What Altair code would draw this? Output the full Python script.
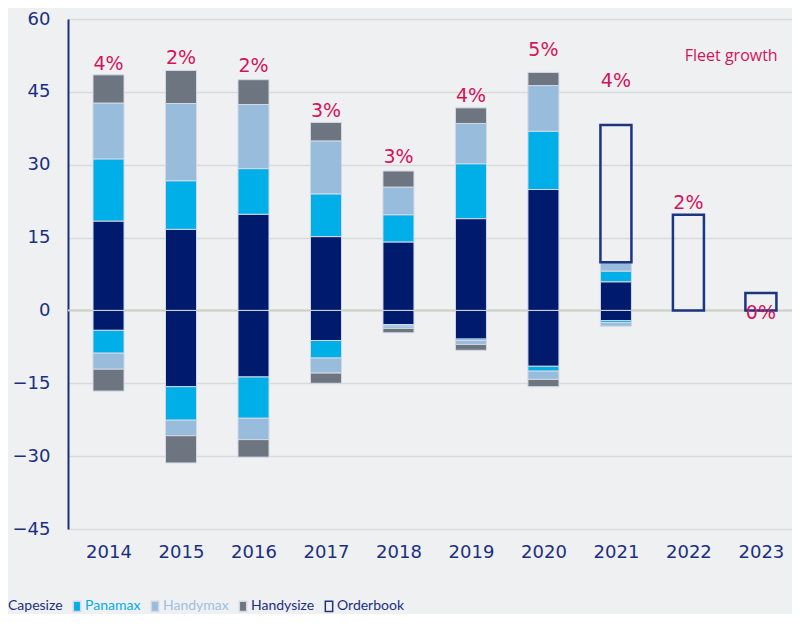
import altair as alt
import pandas as pd

years = [2014, 2015, 2016, 2017, 2018, 2019, 2020, 2021, 2022, 2023]
types = ["Capesize", "Panamax", "Handymax", "Handysize", "Orderbook"]

# deliveries (positive, m dwt)
capesize_del = [18.4, 16.7, 19.8, 15.2, 14.1, 18.9, 24.9, 5.9, 0, 0]
panamax_del = [12.8, 10.0, 9.4, 8.8, 5.6, 11.3, 12.0, 2.2, 0, 0]
handymax_del = [11.5, 15.9, 13.2, 10.9, 5.7, 8.3, 9.4, 1.8, 0, 0]
handysize_del = [5.8, 6.8, 5.1, 3.8, 3.3, 3.2, 2.7, 0, 0, 0]
orderbook = [0, 0, 0, 0, 0, 0, 0, 28.3, 19.7, 3.6]

# demolitions (negative, m dwt)
capesize_dem = [-4.1, -15.7, -13.7, -6.2, -2.9, -5.9, -11.5, -2.1, 0, 0]
panamax_dem = [-4.7, -6.9, -8.5, -3.6, -0.3, -0.3, -1.0, -0.4, 0, 0]
handymax_dem = [-3.3, -3.2, -4.4, -3.1, -0.5, -0.8, -1.7, -0.75, 0, 0]
handysize_dem = [-4.5, -5.6, -3.6, -2.1, -0.9, -1.2, -1.5, 0, 0, 0]

# fleet growth labels and their placement (in axis units)
growth_labels = ["4%", "2%", "2%", "3%", "3%", "4%", "5%", "4%", "2%", "0%"]
growth_label_y = [50.7, 52.0, 50.4, 41.1, 31.5, 44.2, 53.6, 47.3, 22.1, -0.5]

annotation_text = ["Fleet growth"]
annotation_x = [2021.95]
annotation_y = [52.3]

y_ticks = [-45, -30, -15, 0, 15, 30, 45, 60]

NAVY = "#001a6e"
CYAN = "#00aee8"
LIGHT = "#98bcdc"
GREY = "#6d7580"
OB = "#1c3580"
TEXT = "#1b2f7e"
RED = "#d4145a"

series = {
    "Capesize": (capesize_del, capesize_dem),
    "Panamax": (panamax_del, panamax_dem),
    "Handymax": (handymax_del, handymax_dem),
    "Handysize": (handysize_del, handysize_dem),
}
rows = []
for i, t in enumerate(types[:4]):
    dl, dm = series[t]
    for y, a, b in zip(years, dl, dm):
        if a != 0:
            rows.append({"year": y, "type": t, "value": a, "ord": i})
        if b != 0:
            rows.append({"year": y, "type": t, "value": b, "ord": i})
for y, v in zip(years, orderbook):
    if v != 0:
        rows.append({"year": y, "type": "Orderbook", "value": v, "ord": 4})
df = pd.DataFrame(rows)

lab_df = pd.DataFrame({"year": years, "label": growth_labels, "ly": growth_label_y})
ann_df = pd.DataFrame({"x": annotation_x, "y": annotation_y, "t": annotation_text})
zero_df = pd.DataFrame({"z": [0]})

xscale = alt.Scale(domain=[2013.51, 2023.36], nice=False, zero=False)
yscale = alt.Scale(domain=[-45, 60], nice=False, zero=False)

legend = alt.Legend(
    orient="none", legendX=-75, legendY=580, direction="horizontal", title=None,
    labelFont="Lato", labelFontSize=14, labelOffset=1,
    columnPadding=7,
    symbolType="M-0.7,-1H0.7V1H-0.7Z", symbolSize=110, symbolStrokeWidth=1.5,
    labelColor={"expr": "datum.label === 'Panamax' ? '#00aee8' : (datum.label === 'Handymax' ? '#9dbfdf' : '#1b2f7e')"},
)

zero_rule = alt.Chart(zero_df).mark_rule(color="#cdd0c5", strokeWidth=2).encode(
    y=alt.Y("z:Q", scale=yscale)
)

bars = alt.Chart(df).mark_bar(size=31).encode(
    x=alt.X("year:Q", scale=xscale,
            axis=alt.Axis(values=years, format="d", grid=False, domain=False, ticks=False,
                          labelFont="DejaVu Sans", labelFontSize=18, labelColor=TEXT,
                          labelPadding=14, title=None, labelFlush=False, labelOverlap=False)),
    y=alt.Y("value:Q", stack="zero", scale=yscale,
            axis=alt.Axis(values=y_ticks, grid=True, gridColor="#d8d9db", gridWidth=1.5,
                          domain=True, domainColor=TEXT, domainWidth=2, ticks=False,
                          labelPadding=18, labelFont="DejaVu Sans", labelFontSize=18,
                          labelColor=TEXT, title=None)),
    fill=alt.Fill("type:N", scale=alt.Scale(domain=types, range=[NAVY, CYAN, LIGHT, GREY, "transparent"]),
                  legend=legend),
    stroke=alt.Stroke("type:N", scale=alt.Scale(domain=types, range=["#d3d8e4", "#d3d8e4", "#d3d8e4", "#d3d8e4", OB]),
                      legend=legend),
    strokeWidth=alt.condition("datum.type === 'Orderbook'", alt.value(2.5), alt.value(1)),
    order=alt.Order("ord:Q", sort="ascending"),
)

labels = alt.Chart(lab_df).mark_text(font="DejaVu Sans", fontSize=19, color=RED, baseline="middle").encode(
    x=alt.X("year:Q", scale=xscale),
    y=alt.Y("ly:Q", scale=yscale),
    text="label:N",
)

ann = alt.Chart(ann_df).mark_text(font="Open Sans", fontSize=16, color=RED, align="left", baseline="middle").encode(
    x=alt.X("x:Q", scale=xscale),
    y=alt.Y("y:Q", scale=yscale),
    text="t:N",
)

chart = alt.layer(zero_rule, bars, labels, ann).properties(
    width=724, height=510,
    autosize=alt.AutoSizeParams(type="none"),
    padding={"left": 60, "top": 11, "right": 0, "bottom": 85},
).configure(background="#eff0f2").configure_view(stroke=None)

chart.save("out.html", embed_options={"renderer": "svg", "actions": False})
